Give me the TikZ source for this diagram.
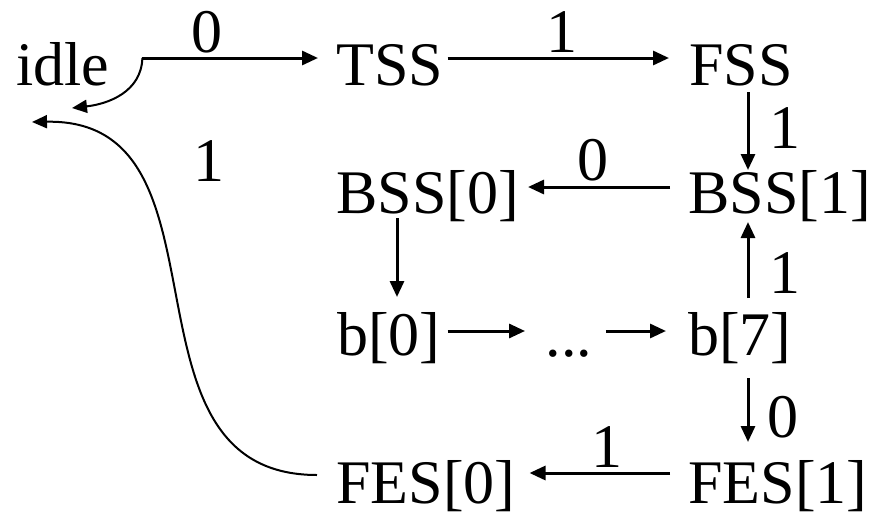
\documentclass[tikz,border=0pt]{standalone}
\usepackage{fontspec}
\setmainfont{Liberation Serif}
\usetikzlibrary{arrows.meta}
\begin{document}
\begin{tikzpicture}[x=1pt,y=-1pt,
  txt/.style={anchor=base west,inner sep=0pt,font=\fontsize{62}{70}\selectfont},
  lbl/.style={anchor=base,inner sep=0pt,font=\fontsize{62}{70}\selectfont},
  arr/.style={line width=3pt,-{Triangle[length=16pt,width=14pt]}},
  carr/.style={line width=2pt,-{Triangle[length=15pt,width=13pt]}}]
\useasboundingbox (0,0) rectangle (879,512);
% states
\node[txt] (idle) at (16,85) {idle};
\node[txt] (TSS) at (336,85) {TSS};
\node[txt] (FSS) at (689,85) {FSS};
\node[txt] (BSS0) at (336,213) {BSS[0]};
\node[txt] (BSS1) at (688,213) {BSS[1]};
\node[txt] (b0) at (337,355) {b[0]};
\node[lbl] (dots) at (569,356) {...};
\node[txt] (b7) at (688,355) {b[7]};
\node[txt] (FES0) at (336,503) {FES[0]};
\node[txt] (FES1) at (688,503) {FES[1]};
% connectors
\coordinate (s0) at ([xshift=33pt,yshift=27pt]idle.base east);
\draw[arr] (s0) -- ([xshift=-18pt,yshift=27pt]TSS.base west);
\draw[carr] (s0) .. controls +(-1,34) and +(36,-4) .. ([xshift=56pt,yshift=-23pt]idle.base west);
\draw[arr] ([xshift=4.5pt,yshift=27pt]TSS.base east) -- ([xshift=-20pt,yshift=27pt]FSS.base west);
\draw[arr] ([xshift=59pt,yshift=-7pt]FSS.base west) -- ([xshift=60pt,yshift=43pt]BSS1.base west);
\draw[arr] ([xshift=-18pt,yshift=26pt]BSS1.base west) -- ([xshift=9pt,yshift=26pt]BSS0.base east);
\draw[arr] ([xshift=60pt,yshift=57pt]b7.base west) -- ([xshift=60pt,yshift=-9pt]BSS1.base west);
\draw[arr] ([xshift=61pt,yshift=-5pt]BSS0.base west) -- ([xshift=60pt,yshift=58pt]b0.base west);
\draw[arr] ([xshift=7pt,yshift=24pt]b0.base east) -- ([xshift=-20.5pt,yshift=25pt]dots.base west);
\draw[arr] ([xshift=13.5pt,yshift=25pt]dots.base east) -- ([xshift=-22pt,yshift=24pt]b7.base west);
\draw[arr] ([xshift=60pt,yshift=-23pt]b7.base west) -- ([xshift=60pt,yshift=61pt]FES1.base west);
\draw[arr] ([xshift=-18pt,yshift=30pt]FES1.base west) -- ([xshift=14pt,yshift=30pt]FES0.base east);
\draw[carr] ([xshift=-19pt,yshift=28pt]FES0.base west) .. controls +(-210,0) and +(210,-4) .. ([xshift=16pt,yshift=-37pt]idle.base west);
% labels
\node[lbl] (l1) at (207,52) {0};
\node[lbl] (l2) at (562,52) {1};
\node[lbl] (l3) at (785,148) {1};
\node[lbl] (l4) at (593,180) {0};
\node[lbl] (l5) at (785,293) {1};
\node[lbl] (l6) at (783,437) {0};
\node[lbl] (l7) at (607,467) {1};
\node[lbl] (l8) at (209,181) {1};
\end{tikzpicture}
\end{document}
